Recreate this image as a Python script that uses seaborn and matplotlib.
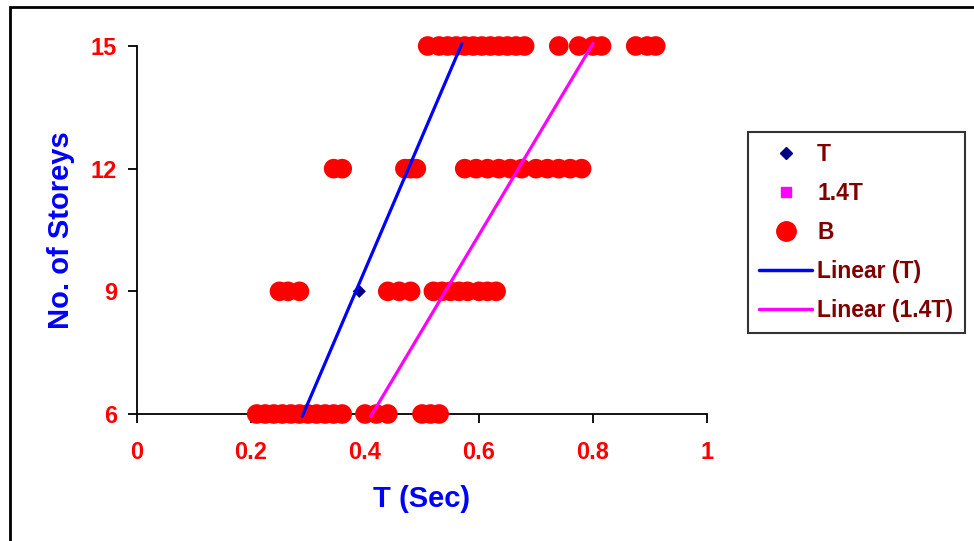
import matplotlib
matplotlib.use('Agg')
import matplotlib.pyplot as plt
from matplotlib.lines import Line2D
from matplotlib.patches import Rectangle
import numpy as np
import pandas as pd
import seaborn as sns

# storeys and periods (sec)
storeys = [6, 9, 12, 15]
t_vals = [0.29, 0.39, 0.47, 0.57]
t14_vals = [0.41, 0.55, 0.66, 0.80]

b6 = [0.21, 0.225, 0.24, 0.255, 0.27, 0.285, 0.30, 0.315, 0.33, 0.345, 0.36,
      0.40, 0.42, 0.44, 0.50, 0.515, 0.53]
b9 = [0.25, 0.265, 0.285, 0.44, 0.46, 0.48, 0.52, 0.535, 0.55, 0.565, 0.58,
      0.60, 0.615, 0.63]
b12 = [0.345, 0.36, 0.47, 0.48, 0.49, 0.575, 0.595, 0.615, 0.635, 0.655,
       0.675, 0.70, 0.72, 0.74, 0.76, 0.78]
b15 = [0.51, 0.53, 0.545, 0.56, 0.575, 0.59, 0.605, 0.62, 0.635, 0.65, 0.665,
       0.68, 0.74, 0.775, 0.80, 0.815, 0.875, 0.895, 0.91]

xticks = [0, 0.2, 0.4, 0.6, 0.8, 1]
xticklabels = ['0', '0.2', '0.4', '0.6', '0.8', '1']

df_b = pd.concat([
    pd.DataFrame({'T': b6, 'n': 6}),
    pd.DataFrame({'T': b9, 'n': 9}),
    pd.DataFrame({'T': b12, 'n': 12}),
    pd.DataFrame({'T': b15, 'n': 15}),
], ignore_index=True)
df_t = pd.DataFrame({'T': t_vals, 'T14': t14_vals, 'n': storeys})

sns.set_style('ticks')
plt.rcParams['font.family'] = ['Liberation Sans', 'DejaVu Sans']
plt.rcParams['font.weight'] = 'bold'

fig = plt.figure(figsize=(9.74, 5.41), dpi=100)
ax = fig.add_axes([137/974, 1-414/541, 570/974, 368/541])

sns.scatterplot(data=df_t, x='T', y='n', marker='D', color='#000080', s=45,
                edgecolor='none', zorder=2, clip_on=False, ax=ax)
sns.scatterplot(data=df_t, x='T14', y='n', marker='s', color='#FF00FF', s=45,
                edgecolor='none', zorder=2, clip_on=False, ax=ax)
sns.scatterplot(data=df_b, x='T', y='n', marker='o', color='#FF0000', s=200,
                edgecolor='none', zorder=3, clip_on=False, ax=ax)
sns.regplot(data=df_t, x='T', y='n', ci=None, scatter=False, truncate=True,
            line_kws=dict(color='#0000FF', lw=2.3, zorder=4, clip_on=False), ax=ax)
sns.regplot(data=df_t, x='T14', y='n', ci=None, scatter=False, truncate=True,
            line_kws=dict(color='#FF00FF', lw=2.3, zorder=4, clip_on=False), ax=ax)

ax.set_xlim(0, 1)
ax.set_ylim(6, 15)
ax.set_xticks(xticks)
ax.set_xticklabels(xticklabels)
ax.set_yticks(storeys)
ax.tick_params(axis='both', direction='out', length=6.5, width=1.3,
               bottom=True, left=True, color='black', labelcolor='#FF0000',
               labelsize=17)
ax.tick_params(axis='x', pad=13)
ax.tick_params(axis='y', pad=8)
for lab in ax.get_xticklabels() + ax.get_yticklabels():
    lab.set_fontweight('bold')

sns.despine(ax=ax)
for sp in ['left', 'bottom']:
    ax.spines[sp].set_color('black')
    ax.spines[sp].set_linewidth(1.3)

ax.set_xlabel('T (Sec)', color='#0000FF', fontsize=21, fontweight='bold', labelpad=15)
ax.set_ylabel('No. of Storeys', color='#0000FF', fontsize=21, fontweight='bold', labelpad=11)

handles = [
    Line2D([], [], ls='none', marker='D', color='#000080', markersize=6.5),
    Line2D([], [], ls='none', marker='s', color='#FF00FF', markersize=6.5),
    Line2D([], [], ls='none', marker='o', color='#FF0000', markersize=14),
    Line2D([], [], color='#0000FF', lw=2.5),
    Line2D([], [], color='#FF00FF', lw=2.5),
]
labels = ['T', '1.4T', 'B', 'Linear (T)', 'Linear (1.4T)']
leg = ax.legend(handles, labels, loc='upper left',
                bbox_to_anchor=(748/974, 1-132/541), bbox_transform=fig.transFigure,
                borderaxespad=0, fancybox=False, frameon=True,
                handlelength=2.3, handletextpad=0.22, labelspacing=0.69,
                borderpad=0.5, prop={'weight': 'bold', 'size': 16.5})
leg.get_frame().set_edgecolor('black')
leg.get_frame().set_linewidth(1.5)
for txt in leg.get_texts():
    txt.set_color('#800000')

fig.patches.append(Rectangle((10/974, -0.1), 1.2, 1.1 - 7/541, transform=fig.transFigure,
                             fill=False, edgecolor='black', lw=2, figure=fig))

fig.savefig('out.png', dpi=100)
